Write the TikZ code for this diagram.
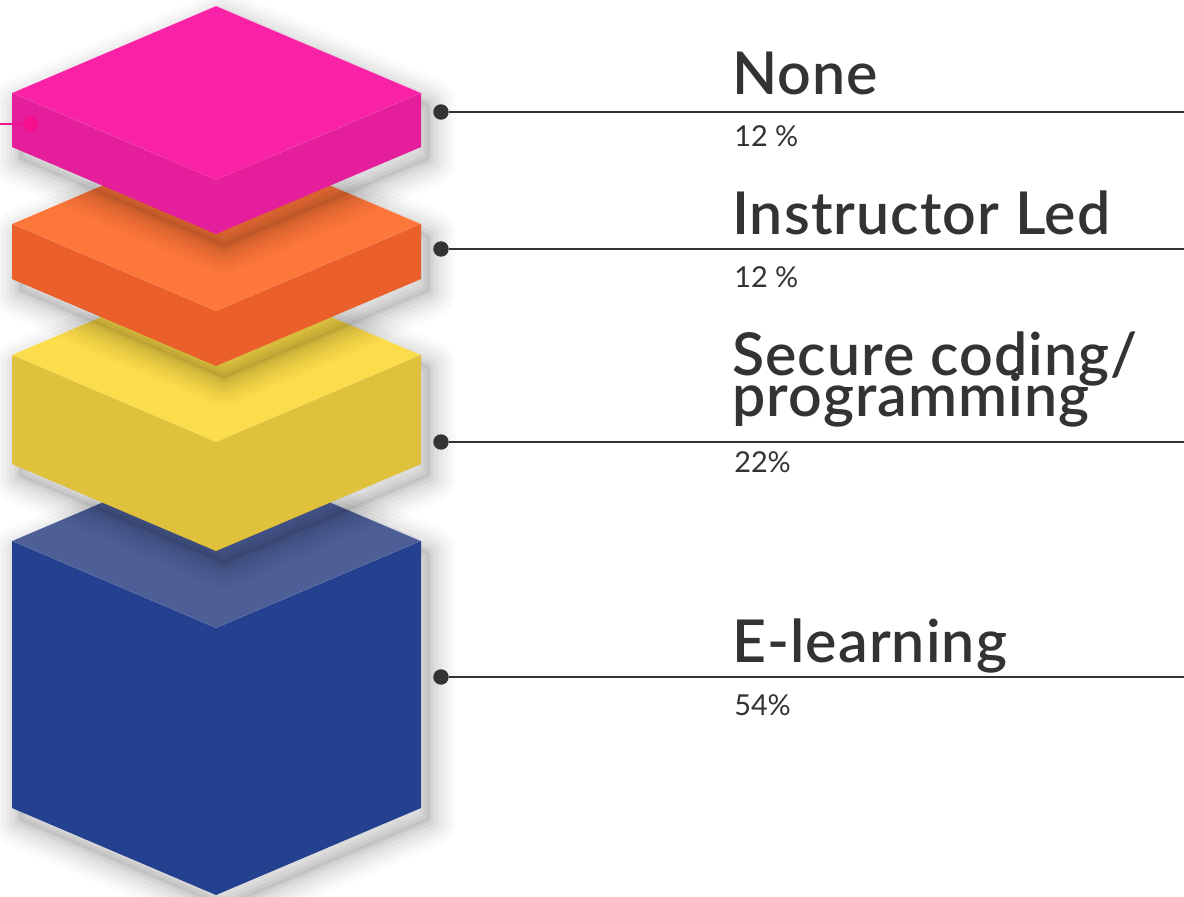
\documentclass[tikz,border=0pt]{standalone}
\usepackage{fontspec}
\setmainfont{Lato}
\newfontfamily\headfont[LetterSpace=1.8]{Lato Semibold}
\usetikzlibrary{positioning}

\definecolor{ink}{HTML}{333333}
\definecolor{pinkTop}{HTML}{F921A5}
\definecolor{pinkSide}{HTML}{E51E9B}
\definecolor{orangeTop}{HTML}{FD763A}
\definecolor{orangeSide}{HTML}{EA5F2A}
\definecolor{yellowTop}{HTML}{FBDC4A}
\definecolor{yellowSide}{HTML}{E0C13C}
\definecolor{blueTop}{HTML}{4E5F98}
\definecolor{blueSide}{HTML}{23418F}
\definecolor{marker}{HTML}{F5118E}

\begin{document}
\begin{tikzpicture}[
        x=0.025cm,
        y=-0.025cm,
        topface/.style={
            draw=white,
            draw opacity=0.3,
            line width=0.3pt,
        },
        sideface/.style={
            draw=none,
        },
        castshadow/.style={
            shift={(8,12)},
            fill=black,
            fill opacity=0.05,
            line join=round,
            preaction={draw=black, draw opacity=0.02, line width=38pt, line join=round},
            preaction={draw=black, draw opacity=0.02, line width=32pt, line join=round},
            preaction={draw=black, draw opacity=0.025, line width=26pt, line join=round},
            preaction={draw=black, draw opacity=0.03, line width=20pt, line join=round},
            preaction={draw=black, draw opacity=0.035, line width=14pt, line join=round},
            preaction={draw=black, draw opacity=0.045, line width=8pt, line join=round},
            preaction={draw=black, draw opacity=0.05, line width=3pt, line join=round},
        },
        dot/.style={
            circle,
            fill=ink,
            inner sep=0pt,
            minimum size=11pt,
        },
        link/.style={
            draw=ink,
            line width=1.5pt,
        },
        title/.style={
            anchor=base west,
            inner sep=0pt,
            text=ink,
            align=left,
            font={\headfont\fontsize{42}{28.5}\selectfont\lineskiplimit-30pt\relax},
        },
        pct/.style={
            anchor=base west,
            inner sep=0pt,
            text=ink,
            font=\fontsize{20.5}{24}\selectfont,
        },
    ]
        \useasboundingbox (0,0) rectangle (1184,896);

        % E-learning block
        \path [castshadow] (12,541) -- (216,454) -- (421,541) -- (421,808) -- (216,895) -- (12,808) -- cycle;
        \fill [blueTop, topface] (12,541) -- (216,454) -- (421,541) -- (216,628) -- cycle;
        \fill [blueSide, sideface] (12,541) -- (216,628) -- (216,895) -- (12,808) -- cycle;
        \fill [blueSide, sideface] (216,628) -- (421,541) -- (421,808) -- (216,895) -- cycle;

        % Secure coding block
        \path [castshadow] (12,355) -- (216,268) -- (421,355) -- (421,464) -- (216,551) -- (12,464) -- cycle;
        \fill [yellowTop, topface] (12,355) -- (216,268) -- (421,355) -- (216,442) -- cycle;
        \fill [yellowSide, sideface] (12,355) -- (216,442) -- (216,551) -- (12,464) -- cycle;
        \fill [yellowSide, sideface] (216,442) -- (421,355) -- (421,464) -- (216,551) -- cycle;

        % Instructor Led block
        \path [castshadow] (12,224) -- (216,137) -- (421,224) -- (421,279) -- (216,366) -- (12,279) -- cycle;
        \fill [orangeTop, topface] (12,224) -- (216,137) -- (421,224) -- (216,311) -- cycle;
        \fill [orangeSide, sideface] (12,224) -- (216,311) -- (216,366) -- (12,279) -- cycle;
        \fill [orangeSide, sideface] (216,311) -- (421,224) -- (421,279) -- (216,366) -- cycle;

        % None block
        \path [castshadow] (12,93) -- (216,6) -- (421,93) -- (421,147) -- (216,234) -- (12,147) -- cycle;
        \fill [pinkTop, topface] (12,93) -- (216,6) -- (421,93) -- (216,180) -- cycle;
        \fill [pinkSide, sideface] (12,93) -- (216,180) -- (216,234) -- (12,147) -- cycle;
        \fill [pinkSide, sideface] (216,180) -- (421,93) -- (421,147) -- (216,234) -- cycle;

        % marker on the top block
        \node [dot, fill=marker] (mark) at (31,124) {};
        \coordinate (markend) at (0,124);
        \draw [link, draw=marker, line width=1.3pt] (markend) -- (mark);

        % leader lines
        \node [dot] (dnone) at (441,112) {};
        \node [dot] (dinstr) at (441,249) {};
        \node [dot] (dsecure) at (441,442) {};
        \node [dot] (delearn) at (441,677) {};
        \coordinate (enone) at (1184,112);
        \coordinate (einstr) at (1184,249);
        \coordinate (esecure) at (1184,442);
        \coordinate (eelearn) at (1184,677);
        \draw [link] (dnone) -- (enone);
        \draw [link] (dinstr) -- (einstr);
        \draw [link] (dsecure) -- (esecure);
        \draw [link] (delearn) -- (eelearn);

        % labels
        \node [title] (none) at (732,94) {None};
        \node [pct] (nonepct) at (734,146) {12 \%};
        \node [title] (instr) at (732,234) {Instructor Led};
        \node [pct] (instrpct) at (734,287) {12 \%};
        \node [title] (secure) at (732,416) {Secure coding/\\programming};
        \node [pct] (securepct) at (734,472) {22\%};
        \node [title] (elearn) at (732,662) {E-learning};
        \node [pct] (elearnpct) at (734,715) {54\%};
    \end{tikzpicture}
\end{document}
